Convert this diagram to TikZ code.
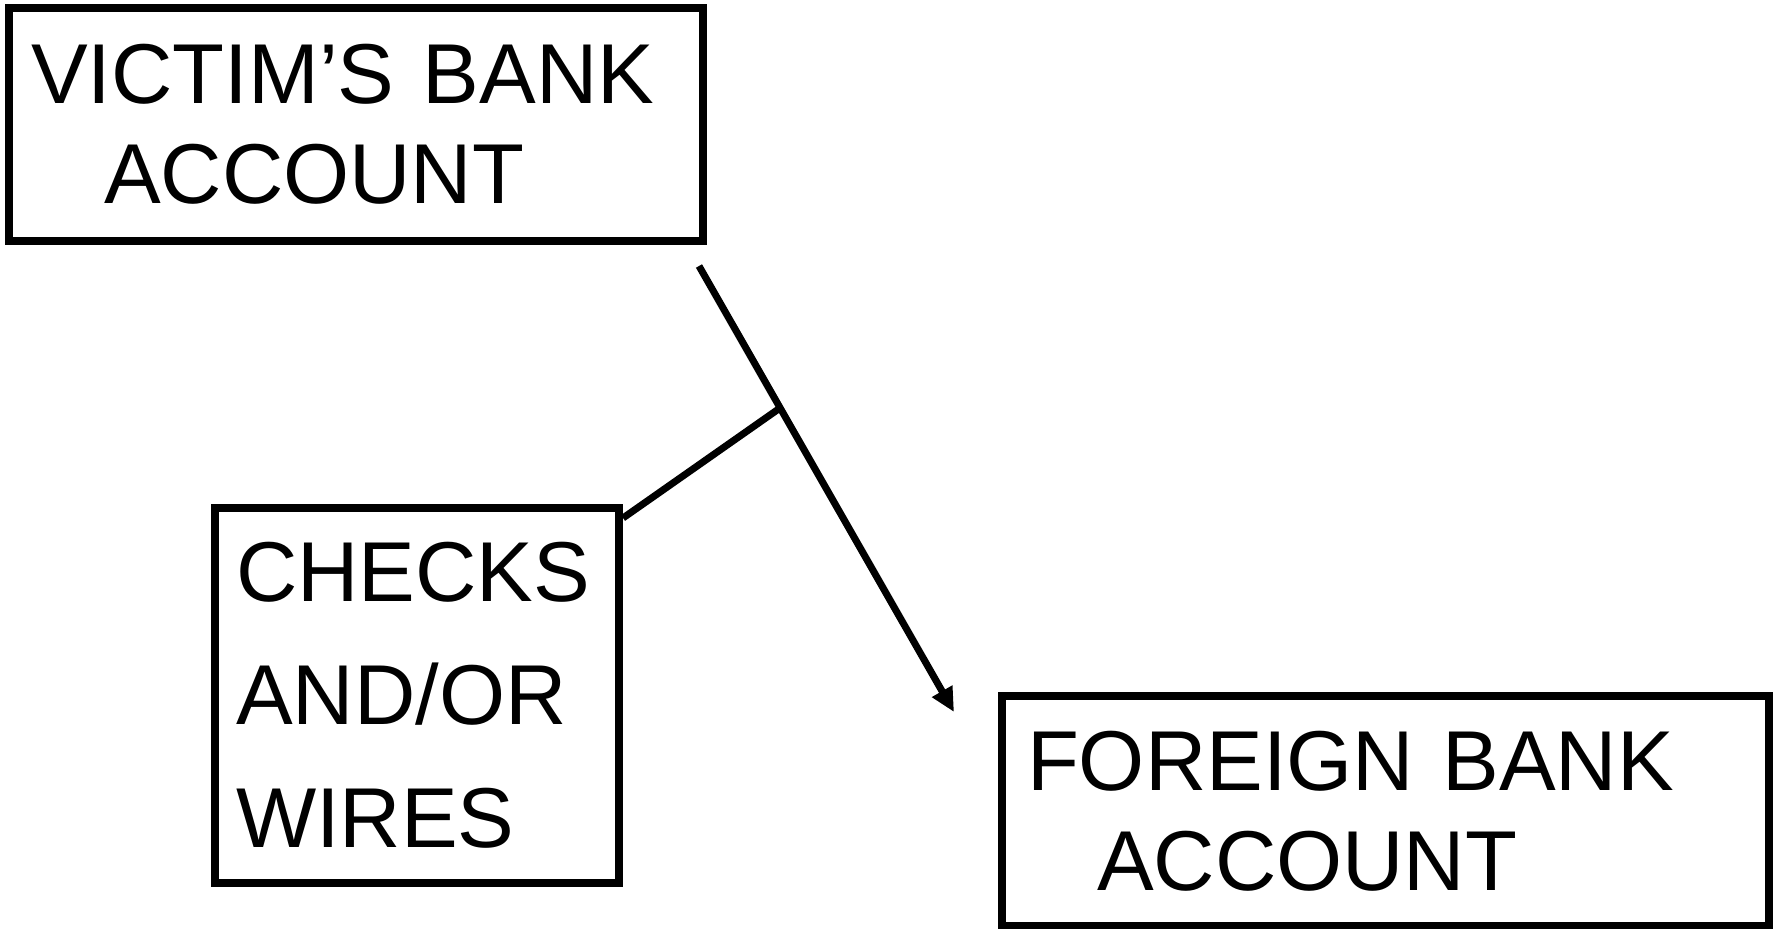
\documentclass[tikz,border=0pt]{standalone}
\usepackage{fontspec}
\setmainfont{Liberation Sans}
\usetikzlibrary{arrows.meta}

\tikzset{
    account/.style={draw, rectangle, line width=2.3pt, inner sep=0pt, align=left,
        font=\fontsize{8.5mm}{10mm}\selectfont},
    flow/.style={line width=2pt},
}

\begin{document}
\begin{tikzpicture}[x=0.1mm,y=-0.1mm]

    \useasboundingbox (0,0) rectangle (1777,928);

    % victim's account
    \node[account, minimum width=69.4mm, minimum height=23.3mm, text width=65mm]
        (victim) at (356,124.5) {VICTIM’S BANK\\\hspace*{7.3mm}ACCOUNT};

    % checks / wires
    \node[account, minimum width=40.4mm, minimum height=37.5mm, text width=36.2mm,
        font=\fontsize{8.5mm}{12.3mm}\selectfont]
        (checks) at (417,695.5) {CHECKS\\AND/OR\\WIRES};

    % foreign account
    \node[account, minimum width=76.7mm, minimum height=23mm, text width=71.7mm]
        (foreign) at (1385.5,811) {FOREIGN BANK\\\hspace*{7mm}ACCOUNT};

    %%%%%%%%%%%%%%%%%%%%%%%%%%%%%%%%%%%%%%%%%%%%%%%%%%%%%%%%%

    % money moving out
    \coordinate (drop) at (699,266);
    \coordinate (landing) at (954,712);
    \coordinate (join) at (780,408);
    \draw[flow,-{Triangle[length=2.4mm,width=2.2mm]}](drop) to (landing);

    % means of transfer
    \draw[flow]([yshift=-1.4mm]checks.north east) to (join);

\end{tikzpicture}
\end{document}
